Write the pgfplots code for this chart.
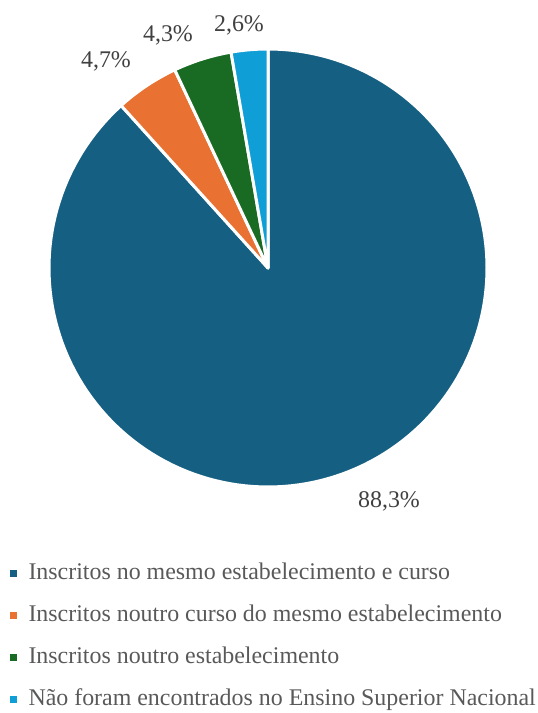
\documentclass[border=0pt]{standalone}
\usepackage{pgfplots}
\pgfplotsset{compat=1.18}
\usepackage{pgfplotstable}
\usepackage{fontspec}
\setmainfont{Liberation Serif}

\definecolor{cA}{HTML}{156082}
\definecolor{cB}{HTML}{E97132}
\definecolor{cC}{HTML}{196B24}
\definecolor{cD}{HTML}{0F9ED5}
\definecolor{lbl}{HTML}{404040}
\definecolor{leg}{HTML}{595959}

% shares (%), clockwise from 12 o'clock
\pgfplotstableread{
share
88.3
4.7
4.3
2.6
}\piedata

\pgfplotstablegetelem{0}{share}\of\piedata \let\sA\pgfplotsretval
\pgfplotstablegetelem{1}{share}\of\piedata \let\sB\pgfplotsretval
\pgfplotstablegetelem{2}{share}\of\piedata \let\sC\pgfplotsretval
\pgfplotstablegetelem{3}{share}\of\piedata \let\sD\pgfplotsretval

\pgfmathsetmacro\aA{90}
\pgfmathsetmacro\aB{\aA-3.6*\sA}
\pgfmathsetmacro\aC{\aB-3.6*\sB}
\pgfmathsetmacro\aD{\aC-3.6*\sC}
\pgfmathsetmacro\aE{-270}

\newcommand\pct[1]{\pgfmathprintnumber[fixed,fixed zerofill,precision=1,use comma,assume math mode=true]{#1}\%}

\begin{document}
\begin{tikzpicture}
\path[use as bounding box] (0,0) rectangle (538bp,713bp);
\begin{axis}[
  width=538bp, height=713bp, scale only axis,
  xmin=0, xmax=538, ymin=0, ymax=713,
  hide axis, clip=false,
  every node/.style={inner sep=0pt},
]
% pie slices, centre (268,445), radius 219
\addplot[fill=cA, draw=white, line width=3bp, line join=round,
  domain=\aB:\aA, samples=160, variable=\t]
  ({268+219*cos(t)}, {445+219*sin(t)}) -- (axis cs:268,445) -- cycle;
\addplot[fill=cB, draw=white, line width=3bp, line join=round,
  domain=\aC:\aB, samples=20, variable=\t]
  ({268+219*cos(t)}, {445+219*sin(t)}) -- (axis cs:268,445) -- cycle;
\addplot[fill=cC, draw=white, line width=3bp, line join=round,
  domain=\aD:\aC, samples=20, variable=\t]
  ({268+219*cos(t)}, {445+219*sin(t)}) -- (axis cs:268,445) -- cycle;
\addplot[fill=cD, draw=white, line width=3bp, line join=round,
  domain=\aE:\aD, samples=20, variable=\t]
  ({268+219*cos(t)}, {445+219*sin(t)}) -- (axis cs:268,445) -- cycle;

% data labels
\begin{scope}[font=\fontsize{24}{27}\selectfont, text=lbl]
\node[anchor=base] at (axis cs:389,205.5) {\pct{\sA}};
\node[anchor=base] at (axis cs:106,645) {\pct{\sB}};
\node[anchor=base] at (axis cs:168,671.5) {\pct{\sC}};
\node[anchor=base] at (axis cs:239,681.5) {\pct{\sD}};
\end{scope}

% legend
\addplot[only marks, mark=square*, mark size=3bp, color=cA] coordinates {(13.5,140)};
\addplot[only marks, mark=square*, mark size=3bp, color=cB] coordinates {(13.5,98)};
\addplot[only marks, mark=square*, mark size=3bp, color=cC] coordinates {(13.5,55.5)};
\addplot[only marks, mark=square*, mark size=3bp, color=cD] coordinates {(13.5,14)};
\begin{scope}[font=\fontsize{24}{27}\selectfont, text=leg]
\node[anchor=base west] at (axis cs:25,133) {Inscritos no mesmo estabelecimento e curso};
\node[anchor=base west] at (axis cs:25,91) {Inscritos noutro curso do mesmo estabelecimento};
\node[anchor=base west] at (axis cs:25,49) {Inscritos noutro estabelecimento};
\node[anchor=base west] at (axis cs:25,8) {Não foram encontrados no Ensino Superior Nacional};
\end{scope}
\end{axis}
\end{tikzpicture}
\end{document}
